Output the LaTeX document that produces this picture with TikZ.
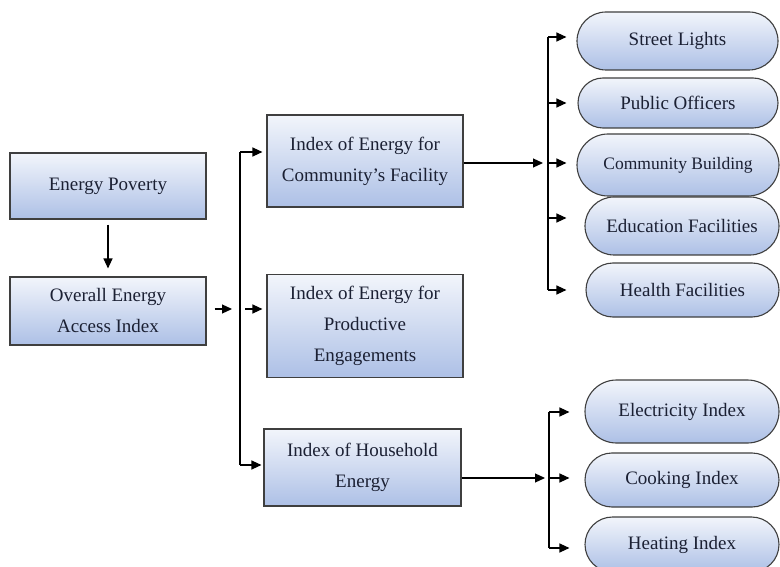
\documentclass[tikz,border=0pt]{standalone}
\usepackage{fontspec}
\setmainfont{Liberation Serif}
\usetikzlibrary{shapes.misc,arrows.meta}

\definecolor{boxtop}{HTML}{F2F5FB}
\definecolor{boxbot}{HTML}{ADC0E6}
\definecolor{edgegray}{HTML}{3F3F3F}
\definecolor{inkblue}{HTML}{1B2033}

\tikzset{
    idxbox/.style={draw=edgegray, line width=1.1pt, top color=boxtop, bottom color=boxbot,
        text=inkblue, align=center, inner sep=0pt, font=\fontsize{19}{31}\selectfont},
    pill/.style={rounded rectangle, draw=edgegray, line width=1.1pt, top color=boxtop,
        bottom color=boxbot, text=inkblue, inner sep=0pt, font=\fontsize{19}{20}\selectfont},
    arr/.style={-{Triangle[length=10pt,width=9pt]}, line width=1.2pt},
}

\begin{document}
\begin{tikzpicture}[x=1pt, y=-1pt]
    \useasboundingbox (0, 0) rectangle (780, 567);

    % left column
    \node[idxbox, minimum width=196, minimum height=66] (pov) at (108, 186) {Energy Poverty};
    \node[idxbox, minimum width=196, minimum height=68] (ovr) at (108, 311) {Overall Energy\\Access Index};

    % middle column
    \node[idxbox, minimum width=196, minimum height=92] (com) at (365, 161) {Index of Energy for\\Community's Facility};
    \node[idxbox, minimum width=196, minimum height=103] (prd) at (365, 326) {Index of Energy for\\Productive\\Engagements};
    \node[idxbox, minimum width=197, minimum height=77] (hh) at (362.5, 467.5) {Index of Household\\Energy};

    % community facilities
    \node[pill, minimum width=201, minimum height=58] (sl) at (677.5, 41) {Street Lights};
    \node[pill, minimum width=200, minimum height=50] (po) at (678, 103) {Public Officers};
    \node[pill, minimum width=202, minimum height=62, font=\fontsize{17.5}{20}\selectfont] (cb) at (678, 165) {Community Building};
    \node[pill, minimum width=194, minimum height=58] (ef) at (682, 226) {Education Facilities};
    \node[pill, minimum width=193, minimum height=54] (hf) at (682.5, 290) {Health Facilities};

    % household energy
    \node[pill, minimum width=194, minimum height=63] (el) at (682, 411.5) {Electricity Index};
    \node[pill, minimum width=194, minimum height=54] (ck) at (682, 480) {Cooking Index};
    \node[pill, minimum width=194, minimum height=55] (ht) at (682, 544.5) {Heating Index};

    % trunks
    \coordinate (tTop) at (240, 152);
    \coordinate (tMid) at (240, 309);
    \coordinate (tBot) at (240, 465);
    \coordinate (cTop) at (548, 37);
    \coordinate (cIn) at (548, 163);
    \coordinate (cEd) at (548, 218);
    \coordinate (cBot) at (548, 290);
    \coordinate (hTop) at (549, 412);
    \coordinate (hIn) at (549, 478);
    \coordinate (hBot) at (549, 548);

    \draw[arr, shorten <=5pt, shorten >=8pt] (pov) -- (ovr);

    \draw[arr, shorten <=8pt, shorten >=8pt] (ovr.east |- tMid) -- (tMid);
    \draw[line width=1.2pt] (tTop) -- (tBot);
    \draw[arr, shorten >=4pt] (tTop) -- (tTop -| com.west);
    \draw[arr, shorten <=5pt, shorten >=4pt] (tMid) -- (tMid -| prd.west);
    \draw[arr, shorten >=2pt] (tBot) -- (tBot -| hh.west);

    \draw[arr, shorten >=5pt] (com.east |- cIn) -- (cIn);
    \draw[line width=1.2pt] (cTop) -- (cBot);
    \draw[arr, shorten >=10pt] (cTop) -- (cTop -| sl.west);
    \draw[arr, shorten >=11pt] (cTop |- po) -- (po.west);
    \draw[arr, shorten >=10pt] (cIn) -- (cIn -| cb.west);
    \draw[arr, shorten >=18pt] (cEd) -- (cEd -| ef.west);
    \draw[arr, shorten >=19pt] (cBot) -- (cBot -| hf.west);

    \draw[arr, shorten >=4pt] (hh.east |- hIn) -- (hIn);
    \draw[line width=1.2pt] (hTop) -- (hBot);
    \draw[arr, shorten >=15pt] (hTop) -- (hTop -| el.west);
    \draw[arr, shorten >=15pt] (hIn) -- (hIn -| ck.west);
    \draw[arr, shorten >=15pt] (hBot) -- (hBot -| ht.west);
\end{tikzpicture}
\end{document}
